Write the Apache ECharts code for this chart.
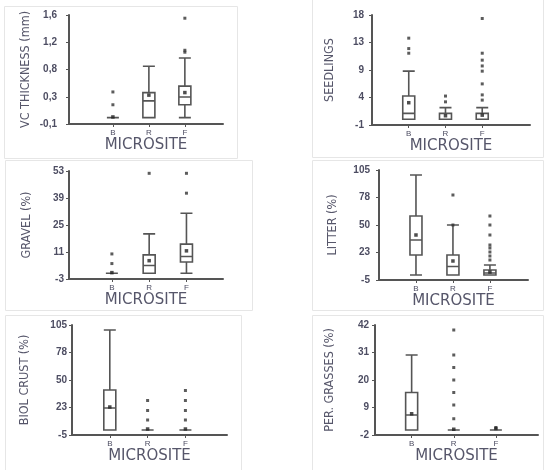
<!DOCTYPE html>
<html><head><meta charset="utf-8">
<script src="https://cdn.jsdelivr.net/npm/echarts@6/dist/echarts.min.js"></script>
<style>html,body{margin:0;padding:0;background:#fff}#c{width:545px;height:470px}</style>
</head><body><div id="c"></div>
<script>
const categories = ['B', 'R', 'F'];

// Box data per category: [min, Q1, median, Q3, max]
const vcRange = [-0.1, 1.6];
const vcTicks = ['-0,1', '0,3', '0,8', '1,2', '1,6'];
const vcBox = [[0, 0, 0, 0, 0], [0, 0, 0.26, 0.39, 0.8], [0, 0.2, 0.32, 0.49, 0.93]];
const vcMean = [0.01, 0.35, 0.39];
const vcOut = [[0.2, 0.4], [], [1.02, 1.05, 1.55]];

const seedRange = [-1, 18];
const seedTicks = ['-1', '4', '9', '13', '18'];
const seedBox = [[0, 0, 1, 4, 8.3], [0, 0, 0, 1, 2], [0, 0, 0, 1, 2]];
const seedMean = [2.85, 0.6, 0.7];
const seedOut = [[11.4, 12.2, 14], [3, 4], [3.3, 4.2, 6.1, 8.3, 9.2, 10.2, 11.4, 17.4]];

const gravRange = [-3, 53];
const gravTicks = ['-3', '11', '25', '39', '53'];
const gravBox = [[0, 0, 0, 0, 0], [0, 0, 4, 9.5, 20.4], [0, 5.8, 8.7, 15.1, 31.1]];
const gravMean = [0.3, 6.5, 11.6];
const gravOut = [[5, 10], [51.8], [41.5, 51.8]];

const litRange = [-5, 105];
const litTicks = ['-5', '23', '50', '78', '105'];
const litBox = [[0, 20, 35, 59, 100], [0, 0, 8.5, 20, 50], [0, 0, 2, 5, 10]];
const litMean = [40, 14, 3];
const litOut = [[], [50, 80], [15, 19, 23, 27, 30, 40, 50, 59]];

const bioRange = [-5, 105];
const bioTicks = ['-5', '23', '50', '78', '105'];
const bioBox = [[0, 0, 22, 40, 100], [0, 0, 0, 0, 0], [0, 0, 0, 0, 0]];
const bioMean = [23, 1, 1];
const bioOut = [[], [10, 19.5, 29.5], [10, 19.5, 29.5, 39.5]];

const grsRange = [-2, 42];
const grsTicks = ['-2', '9', '20', '31', '42'];
const grsBox = [[0, 0, 6, 15, 30], [0, 0, 0, 0, 0], [0, 0, 0, 0, 0]];
const grsMean = [6.5, 0.3, 0.6];
const grsOut = [[], [4.5, 10, 15, 20, 25, 30, 40], [1]];

const panels = [
  { title: 'VC THICKNESS (mm)', range: vcRange, ticks: vcTicks, box: vcBox, mean: vcMean, out: vcOut },
  { title: 'SEEDLINGS', range: seedRange, ticks: seedTicks, box: seedBox, mean: seedMean, out: seedOut },
  { title: 'GRAVEL (%)', range: gravRange, ticks: gravTicks, box: gravBox, mean: gravMean, out: gravOut },
  { title: 'LITTER (%)', range: litRange, ticks: litTicks, box: litBox, mean: litMean, out: litOut },
  { title: 'BIOL CRUST (%)', range: bioRange, ticks: bioTicks, box: bioBox, mean: bioMean, out: bioOut },
  { title: 'PER. GRASSES (%)', range: grsRange, ticks: grsTicks, box: grsBox, mean: grsMean, out: grsOut }
];

// layout (pixels) per panel
const layout = [
  { left: 69, top: 15, width: 154, height: 109, xMin: -0.22, xMax: 4.06, nameGap: 37, labelMargin: 12 },
  { left: 372, top: 15, width: 158, height: 110, xMin: 0, xMax: 4.3, nameGap: 36, labelMargin: 8 },
  { left: 69, top: 171, width: 154, height: 108, xMin: -0.15, xMax: 3.98, nameGap: 36, labelMargin: 5 },
  { left: 379, top: 170, width: 149, height: 110, xMin: 0, xMax: 4.03, nameGap: 40, labelMargin: 9 },
  { left: 72, top: 325, width: 155, height: 110, xMin: 0, xMax: 4.1, nameGap: 41, labelMargin: 5 },
  { left: 375, top: 325, width: 163, height: 110, xMin: 0.13, xMax: 4.0, nameGap: 39, labelMargin: 6 }
];
const frames = [[4, 6, 233, 152], [312, -1, 231, 158], [5, 160, 247, 150], [312, 160, 231, 150], [5, 315, 236, 160], [312, 315, 231, 160]];

const axisColor = '#555';
const textColor = '#4d4d62';
const catPos = categories.map((c, i) => i + 1);

const grid = [], xAxis = [], yAxis = [], series = [];
panels.forEach((p, k) => {
  const L = layout[k];
  const interval = (p.range[1] - p.range[0]) / 4;
  grid.push({ left: L.left, top: L.top, width: L.width, height: L.height });
  xAxis.push({
    type: 'value', gridIndex: k, min: L.xMin, max: L.xMax,
    axisLine: { show: true, onZero: false, lineStyle: { color: axisColor, width: 2 } },
    axisTick: { show: true, customValues: catPos, length: 3, lineStyle: { color: axisColor, width: 1 } },
    axisLabel: { show: true, customValues: catPos, margin: 5, fontSize: 8, color: textColor,
      formatter: v => categories[Math.round(v) - 1] || '' },
    splitLine: { show: false },
    name: 'MICROSITE', nameLocation: 'middle', nameGap: 14,
    nameTextStyle: { fontFamily: 'DejaVu Sans', fontSize: 15, color: '#56566a' }
  });
  yAxis.push({
    type: 'value', gridIndex: k, min: p.range[0], max: p.range[1], interval: interval,
    axisLine: { show: true, onZero: false, lineStyle: { color: axisColor, width: 2 } },
    axisTick: { show: true, length: 3, lineStyle: { color: axisColor, width: 1 } },
    axisLabel: { margin: L.labelMargin, fontSize: 10, color: textColor, fontWeight: 'bold',
      formatter: v => p.ticks[Math.round((v - p.range[0]) / interval)] },
    splitLine: { show: false },
    name: p.title, nameLocation: 'middle', nameGap: L.nameGap, nameRotate: 90,
    nameTextStyle: { fontFamily: "'Liberation Sans Narrow', 'DejaVu Sans Condensed', sans-serif", fontSize: 12.5, color: '#56566a' }
  });
  series.push({
    type: 'boxplot', xAxisIndex: k, yAxisIndex: k, boxWidth: [12, 12],
    itemStyle: { color: '#fff', borderColor: '#555', borderWidth: 1.6 },
    data: p.box.map((b, i) => [catPos[i]].concat(b)),
    silent: true
  });
  const outData = [];
  p.out.forEach((arr, i) => arr.forEach(v => outData.push([catPos[i], v])));
  series.push({
    type: 'scatter', xAxisIndex: k, yAxisIndex: k, symbol: 'rect', symbolSize: 3,
    itemStyle: { color: '#333' }, data: outData, silent: true
  });
  series.push({
    type: 'scatter', xAxisIndex: k, yAxisIndex: k, symbol: 'rect', symbolSize: 3.5,
    itemStyle: { color: '#222' }, data: p.mean.map((m, i) => [catPos[i], m]), silent: true, z: 5
  });
});

const graphic = frames.map(f => ({
  type: 'rect', shape: { x: f[0] + 0.5, y: f[1] + 0.5, width: f[2], height: f[3] },
  style: { fill: 'none', stroke: '#e6e6e6', lineWidth: 1 }, silent: true, z: -10
}));

const chart = echarts.init(document.getElementById('c'));
chart.setOption({ animation: false, backgroundColor: '#fff', grid, xAxis, yAxis, series, graphic });
</script></body></html>
